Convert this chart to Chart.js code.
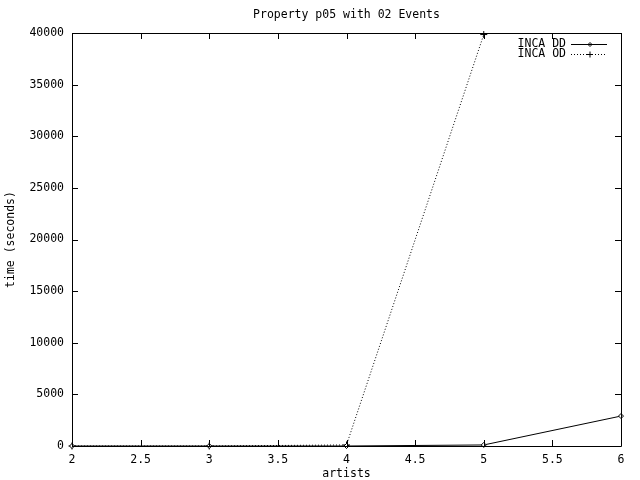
<!DOCTYPE html>
<html>
<head>
<meta charset="utf-8">
<script src="https://cdn.jsdelivr.net/npm/chart.js@4"></script>
<style>
  html, body { margin: 0; padding: 0; background: #fff; }
  #wrap { width: 640px; height: 480px; }
</style>
</head>
<body>
<div id="wrap"><canvas id="myChart" width="640" height="480"></canvas></div>
<script>
var artists = [2, 3, 4, 5, 6];
var incaDD = [0, 0, 0, 100, 2900];
var incaOD = [0, 0, 100, 39850, null];
var seriesNames = ['INCA DD', 'INCA OD'];
var chartTitle = 'Property p05 with 02 Events';

var FONT = 'DejaVu Sans Mono';
var FSIZE = 11.5;

function toPoints(xs, ys) {
    var pts = [];
    for (var i = 0; i < xs.length; i++) {
        if (ys[i] !== null) pts.push({ x: xs[i], y: ys[i] });
    }
    return pts;
}

// gnuplot style: box around plot, ticks pointing inward on all four sides
var gnuBox = {
    id: 'gnuBox',
    afterDatasetsDraw: function (chart) {
        var ctx = chart.ctx, a = chart.chartArea;
        var xs = chart.scales.x, ys = chart.scales.y;
        var len = 6;
        ctx.save();
        ctx.strokeStyle = '#000';
        ctx.lineWidth = 1;
        ctx.beginPath();
        ctx.rect(Math.round(a.left) + 0.5, Math.round(a.top) + 0.5,
            Math.round(a.right - a.left), Math.round(a.bottom - a.top));
        xs.ticks.forEach(function (t) {
            var px = Math.round(xs.getPixelForValue(t.value)) + 0.5;
            ctx.moveTo(px, a.bottom);
            ctx.lineTo(px, a.bottom - len);
            ctx.moveTo(px, a.top);
            ctx.lineTo(px, a.top + len);
        });
        ys.ticks.forEach(function (t) {
            var py = Math.round(ys.getPixelForValue(t.value)) + 0.5;
            ctx.moveTo(a.left, py);
            ctx.lineTo(a.left + len, py);
            ctx.moveTo(a.right, py);
            ctx.lineTo(a.right - len, py);
        });
        ctx.stroke();

        // key, top right inside the box
        ctx.font = FSIZE + 'px "' + FONT + '"';
        ctx.fillStyle = '#000';
        ctx.textAlign = 'right';
        ctx.textBaseline = 'middle';
        chart.data.datasets.forEach(function (ds, i) {
            var y = a.top + 11.5 + i * 10;
            ctx.fillText(ds.label, a.right - 55, y);
            ctx.beginPath();
            ctx.setLineDash(ds.borderDash || []);
            ctx.moveTo(a.right - 50, y);
            ctx.lineTo(a.right - 14, y);
            ctx.stroke();
            ctx.setLineDash([]);
            var mx = a.right - 31;
            ctx.beginPath();
            if (ds.pointStyle === 'rectRot') {
                ctx.moveTo(mx, y - 2); ctx.lineTo(mx + 2, y);
                ctx.lineTo(mx, y + 2); ctx.lineTo(mx - 2, y);
                ctx.closePath();
            } else {
                ctx.moveTo(mx - 3, y); ctx.lineTo(mx + 3, y);
                ctx.moveTo(mx, y - 3); ctx.lineTo(mx, y + 3);
            }
            ctx.stroke();
        });
        ctx.restore();
    }
};

new Chart('myChart', {
    type: 'line',
    data: {
        datasets: [{
            label: seriesNames[0],
            data: toPoints(artists, incaDD),
            borderColor: '#000',
            backgroundColor: '#fff',
            borderWidth: 1,
            pointStyle: 'rectRot',
            pointRadius: 2.5,
            pointBorderWidth: 1,
            pointBorderColor: '#000',
            tension: 0,
            clip: false
        }, {
            label: seriesNames[1],
            data: toPoints(artists, incaOD),
            borderColor: '#000',
            backgroundColor: '#000',
            borderWidth: 1,
            borderDash: [1, 2],
            pointStyle: 'cross',
            pointRadius: 3.5,
            pointBorderWidth: 1,
            pointBorderColor: '#000',
            tension: 0,
            clip: false
        }]
    },
    options: {
        responsive: false,
        animation: false,
        layout: { padding: { left: 0, right: 19, top: 0, bottom: 0 } },
        plugins: {
            legend: { display: false },
            tooltip: { enabled: false },
            title: { display: false }
        },
        scales: {
            x: {
                type: 'linear',
                min: 2,
                max: 6,
                ticks: {
                    stepSize: 0.5,
                    color: '#000',
                    font: { family: FONT, size: FSIZE },
                    padding: 7,
                    maxRotation: 0,
                    callback: function (v) { return String(v); }
                },
                grid: { display: false, drawTicks: false },
                border: { display: false },
                title: {
                    display: true,
                    text: 'artists',
                    color: '#000',
                    font: { family: FONT, size: FSIZE },
                    padding: { top: 0, bottom: -0.5 }
                },
                afterFit: function (s) { s.height = 34; }
            },
            // top axis only carries the chart title, centred over the plot like gnuplot
            xTop: {
                type: 'linear',
                position: 'top',
                min: 2,
                max: 6,
                ticks: { display: false },
                grid: { display: false, drawTicks: false },
                border: { display: false },
                title: {
                    display: true,
                    text: chartTitle,
                    color: '#000',
                    font: { family: FONT, size: FSIZE },
                    padding: { top: 8, bottom: 0 }
                },
                afterFit: function (s) { s.height = 33; }
            },
            y: {
                min: 0,
                max: 40000,
                ticks: {
                    stepSize: 5000,
                    color: '#000',
                    font: { family: FONT, size: FSIZE },
                    padding: 8,
                    callback: function (v) { return String(v); }
                },
                grid: { display: false, drawTicks: false },
                border: { display: false },
                title: {
                    display: true,
                    text: 'time (seconds)',
                    color: '#000',
                    font: { family: FONT, size: FSIZE },
                    padding: { top: 4.5, bottom: 0 }
                },
                afterFit: function (s) { s.width = 72; }
            }
        }
    },
    plugins: [gnuBox]
});
</script>
</body>
</html>
